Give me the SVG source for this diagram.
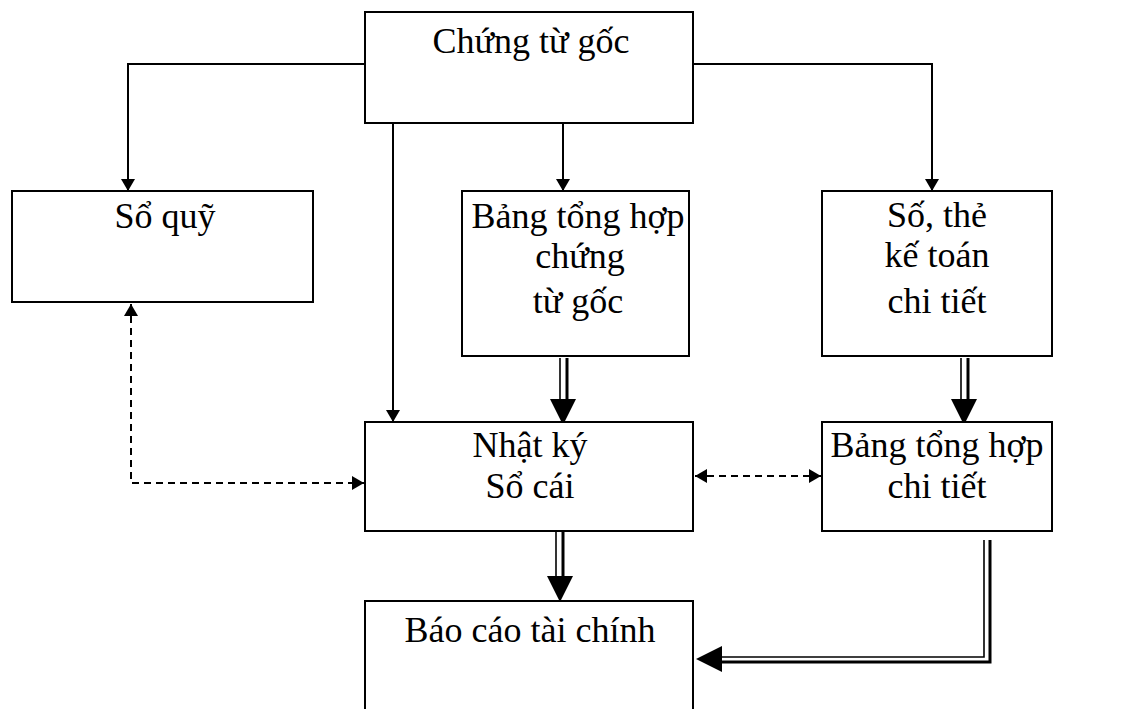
<svg xmlns="http://www.w3.org/2000/svg" width="1147" height="709" viewBox="0 0 1147 709">
<style>
.box{fill:#ffffff;stroke:#000;stroke-width:2}
.t{font-family:"Liberation Serif","Times New Roman",serif;font-size:36px;fill:#000;text-anchor:middle}
.ln{fill:none;stroke:#000;stroke-width:2}
.dash{fill:none;stroke:#000;stroke-width:2;stroke-dasharray:7,5}
.thin{fill:none;stroke:#000;stroke-width:1.6}
.thick{fill:none;stroke:#000;stroke-width:3}
.head{fill:#000}
</style>
<defs>
<marker id="arr" markerUnits="userSpaceOnUse" markerWidth="14" markerHeight="14" viewBox="0 0 12 14" refX="12" refY="7" orient="auto-start-reverse">
<path d="M0,0 L12,7 L0,14 z" fill="#000"/>
</marker>
<path id="big" d="M0,0 L-13,-26 L13,-26 z"/>
</defs>
<rect width="1147" height="709" fill="#ffffff"/>

<g id="connectors">
<polyline class="ln" points="365,64 128,64 128,191" marker-end="url(#arr)"/>
<polyline class="ln" points="693,64 932,64 932,191" marker-end="url(#arr)"/>
<line class="ln" x1="393" y1="123" x2="393" y2="422" marker-end="url(#arr)"/>
<line class="ln" x1="563" y1="123" x2="563" y2="191" marker-end="url(#arr)"/>

<line class="thin" x1="560" y1="358" x2="560" y2="400"/>
<line class="thick" x1="567" y1="358" x2="567" y2="400"/>
<use href="#big" class="head" transform="translate(563,425)"/>

<line class="thin" x1="961" y1="358" x2="961" y2="400"/>
<line class="thick" x1="968" y1="358" x2="968" y2="400"/>
<use href="#big" class="head" transform="translate(964,425)"/>

<line class="thin" x1="556" y1="532" x2="556" y2="577"/>
<line class="thick" x1="563" y1="532" x2="563" y2="577"/>
<use href="#big" class="head" transform="translate(560,602)"/>

<polyline class="thin" points="984,540 984,657 720,657"/>
<polyline class="thick" points="990,540 990,662 720,662"/>
<use href="#big" class="head" transform="translate(696,659) rotate(90)"/>

<polyline class="dash" points="131,304 131,483 364,483" marker-start="url(#arr)" marker-end="url(#arr)"/>
<line class="dash" x1="695" y1="476" x2="821" y2="476" marker-start="url(#arr)" marker-end="url(#arr)"/>
</g>

<g id="n-chungtugoc">
<rect class="box" x="365" y="12" width="328" height="111"/>
<text class="t" x="531" y="53">Chứng từ gốc</text>
</g>
<g id="n-soquy">
<rect class="box" x="12" y="191" width="301" height="111"/>
<text class="t" x="165" y="228">Sổ quỹ</text>
</g>
<g id="n-bangtonghopctg">
<rect class="box" x="462" y="191" width="227" height="165"/>
<text class="t" x="578" y="228">Bảng tổng hợp</text>
<text class="t" x="580" y="268">chứng</text>
<text class="t" x="578" y="313">từ gốc</text>
</g>
<g id="n-sothe">
<rect class="box" x="822" y="191" width="230" height="165"/>
<text class="t" x="937" y="227">Số, thẻ</text>
<text class="t" x="937" y="267">kế toán</text>
<text class="t" x="937" y="313">chi tiết</text>
</g>
<g id="n-nhatky">
<rect class="box" x="365" y="422" width="328" height="109"/>
<text class="t" x="530" y="457">Nhật ký</text>
<text class="t" x="530" y="498">Sổ cái</text>
</g>
<g id="n-bangtonghopct">
<rect class="box" x="822" y="422" width="230" height="109"/>
<text class="t" x="937" y="457">Bảng tổng hợp</text>
<text class="t" x="937" y="498">chi tiết</text>
</g>
<g id="n-baocao">
<rect class="box" x="365" y="601" width="328" height="120"/>
<text class="t" x="530" y="642">Báo cáo tài chính</text>
</g>
</svg>
